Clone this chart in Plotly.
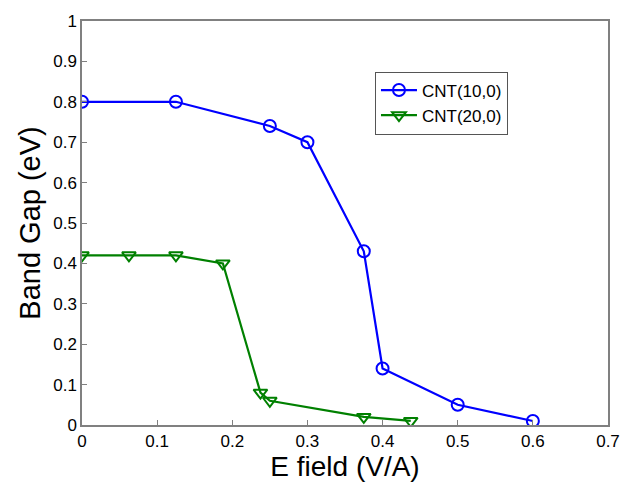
import plotly.graph_objects as go

x_10 = [0, 0.125, 0.25, 0.3, 0.375, 0.4, 0.5, 0.6]
y_10 = [0.8, 0.8, 0.74, 0.7, 0.43, 0.14, 0.05, 0.01]
x_20 = [0, 0.0625, 0.125, 0.1875, 0.2375, 0.25, 0.375, 0.4375]
y_20 = [0.42, 0.42, 0.42, 0.40, 0.08, 0.06, 0.02, 0.01]
x_ticks = [0, 0.1, 0.2, 0.3, 0.4, 0.5, 0.6, 0.7]
x_labels = ["0", "0.1", "0.2", "0.3", "0.4", "0.5", "0.6", "0.7"]
y_ticks = [0, 0.1, 0.2, 0.3, 0.4, 0.5, 0.6, 0.7, 0.8, 0.9, 1]
y_labels = ["0", "0.1", "0.2", "0.3", "0.4", "0.5", "0.6", "0.7", "0.8", "0.9", "1"]

fig = go.Figure()
fig.add_trace(go.Scatter(x=x_10, y=y_10, mode="lines+markers", name="CNT(10,0)",
                         line=dict(color="#0000ff", width=2.2),
                         marker=dict(symbol="circle-open", size=12, color="#0000ff", line=dict(width=2))))
fig.add_trace(go.Scatter(x=x_20, y=y_20, mode="lines+markers", name="CNT(20,0)",
                         line=dict(color="#008000", width=2.2),
                         marker=dict(symbol="triangle-down-open", size=12, color="#008000", line=dict(width=2))))

font = "Liberation Sans, Arial, sans-serif"
fig.update_layout(
    width=633, height=485,
    margin=dict(l=82, r=25, t=13, b=59),
    paper_bgcolor="white", plot_bgcolor="white",
    font=dict(family=font, color="black"),
    showlegend=True,
    legend=dict(x=0.557, y=0.875, xanchor="left", yanchor="top",
                bordercolor="#555555", borderwidth=1, bgcolor="white",
                font=dict(size=17, family=font), tracegroupgap=0, itemwidth=36),
    xaxis=dict(range=[0, 0.7], tickvals=x_ticks, ticktext=x_labels,
               showgrid=False, zeroline=False, showline=True, linecolor="#808080", linewidth=1.5,
               mirror=True, ticks="inside", ticklen=5, tickcolor="#808080",
               tickfont=dict(size=17, family=font),
               title=dict(text="E field (V/A)", font=dict(size=28, family=font), standoff=2)),
    yaxis=dict(range=[0, 1], tickvals=y_ticks, ticktext=y_labels,
               showgrid=False, zeroline=False, showline=True, linecolor="#808080", linewidth=1.5,
               mirror=True, ticks="inside", ticklen=5, tickcolor="#808080",
               tickfont=dict(size=17, family=font),
               title=dict(text="Band Gap (eV)", font=dict(size=29, family=font), standoff=4)),
)
fig.write_html("out.html")
